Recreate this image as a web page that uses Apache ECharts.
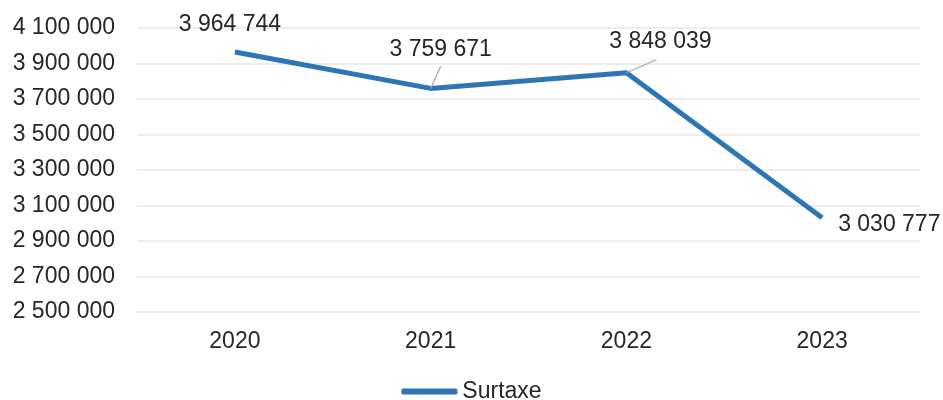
<!DOCTYPE html>
<html>
<head>
<meta charset="utf-8">
<script src="https://cdn.jsdelivr.net/npm/echarts@6/dist/echarts.min.js"></script>
<style>html,body{margin:0;padding:0;background:#fff}#c{width:943px;height:400px}</style>
</head>
<body>
<div id="c"></div>
<script>
const categories = ['2020', '2021', '2022', '2023'];
const surtaxe = [3964744, 3759671, 3848039, 3030777];
const seriesName = 'Surtaxe';
const yMin = 2500000, yMax = 4100000, yStep = 200000;

function fmt(v) {
  return String(Math.round(v)).replace(/\B(?=(\d{3})+(?!\d))/g, ' ');
}
const labelShift = [[-5, -11], [10, -17], [30, -8], [11, 7]];
const labelPad = [0, [0, 0, 5, 0], [0, 0, 7, 8], 0];
const showLeader = [false, true, true, false];

const chart = echarts.init(document.getElementById('c'), null, {renderer: 'canvas'});
const FONT = 'Liberation Sans, Arial, sans-serif';
chart.setOption({
  animation: false,
  grid: {left: 137, right: 23, top: 28, bottom: 88},
  xAxis: {
    type: 'category', data: categories, boundaryGap: true,
    axisLine: {show: false}, axisTick: {show: false},
    axisLabel: {color: '#262626', fontSize: 23, fontFamily: FONT, margin: 18}
  },
  yAxis: {
    type: 'value', min: yMin, max: yMax, interval: yStep,
    axisLine: {show: false}, axisTick: {show: false},
    splitLine: {lineStyle: {color: '#e6e6e6', width: 1.5}},
    axisLabel: {color: '#262626', fontSize: 23, fontFamily: FONT, margin: 22, formatter: fmt}
  },
  legend: {
    top: 375, left: 'center', icon: 'roundRect', itemWidth: 56, itemHeight: 6, itemGap: 4,
    textStyle: {color: '#262626', fontSize: 23, fontFamily: FONT},
    data: [seriesName]
  },
  series: [{
    name: seriesName, type: 'line', showSymbol: true, symbol: 'circle', symbolSize: 0.01,
    lineStyle: {color: '#2e75b6', width: 5, join: 'round'},
    itemStyle: {color: '#2e75b6'},
    data: surtaxe.map((v, i) => ({
      value: v,
      label: {position: i === 3 ? 'right' : 'top', padding: labelPad[i],
              backgroundColor: labelPad[i] ? 'rgba(255,255,255,0.001)' : 'transparent'},
      labelLine: {show: showLeader[i]}
    })),
    label: {show: true, color: '#262626', fontSize: 23, fontFamily: FONT, formatter: p => fmt(p.value)},
    labelLine: {show: true, lineStyle: {color: '#a6a6a6', width: 1.2}},
    labelLayout: p => ({dx: labelShift[p.dataIndex][0], dy: labelShift[p.dataIndex][1]})
  }]
});
</script>
</body>
</html>
